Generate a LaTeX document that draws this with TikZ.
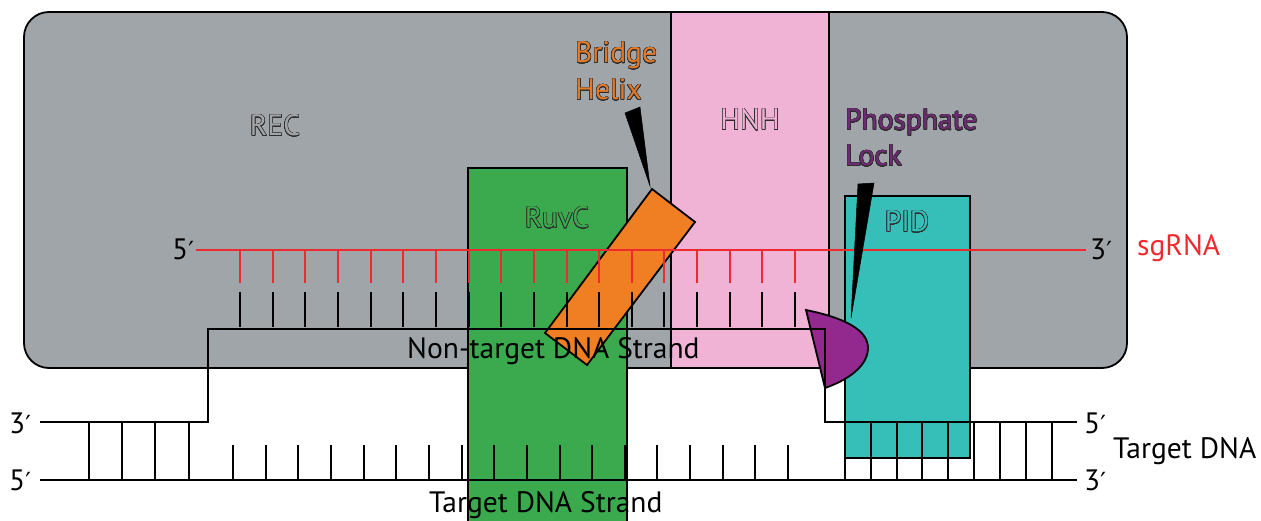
\documentclass[tikz,border=0pt]{standalone}
\usepackage{fontspec}
\setmainfont{PT Sans}
\newfontfamily\dvfont{DejaVu Sans}
\usepackage{contour}
\contourlength{0.5pt}
\contournumber{24}
\definecolor{recgrey}{HTML}{A0A5AA}
\definecolor{hnhpink}{HTML}{F0B3D6}
\definecolor{ruvcgreen}{HTML}{3BAA4E}
\definecolor{pidteal}{HTML}{36BEB9}
\definecolor{bhorange}{HTML}{F07E22}
\definecolor{lockpurple}{HTML}{93288F}
\definecolor{rnared}{HTML}{EE2A2E}
\definecolor{bhtext}{HTML}{E27A2A}
\definecolor{pltext}{HTML}{6E2A72}
\definecolor{outl}{HTML}{2E2E2E}
\newcommand{\myprime}{{\dvfont\fontsize{25}{28}\selectfont ′}}
\begin{document}
\begin{tikzpicture}[x=1pt,y=-1pt,
  domainbox/.style={draw=black, line width=1.8pt},
  strand/.style={draw=black, line width=2.2pt},
  tick/.style={draw=black, line width=2pt},
  rtick/.style={draw=rnared, line width=2pt},
  rna/.style={draw=rnared, line width=2.2pt},
  lbl/.style={font=\fontsize{29.5}{34}\selectfont, inner sep=0pt},
  dom/.style={font=\fontsize{29.5}{34}\selectfont, inner sep=0pt, anchor=base},
  wedge/.style={fill=black, draw=black, line width=0.5pt, line join=miter}]
\useasboundingbox (0,0) rectangle (1261,521);

% protein domains
\draw[domainbox, fill=recgrey, rounded corners=25pt] (24,12) rectangle (1127,368);
\draw[domainbox, fill=hnhpink] (671,12) rectangle (829,368);
\draw[domainbox, fill=ruvcgreen] (468,168) rectangle (627,525);
\draw[domainbox, fill=pidteal] (845,196) rectangle (970,458);
\draw[domainbox, fill=bhorange, line join=miter] (652,189) -- (695,222) -- (587,365) -- (545,333) -- cycle;

% domain labels
\node[dom, text=recgrey] (rec) at (275,136) {\contour{outl}{REC}};
\node[dom, text=hnhpink] (hnh) at (750,130) {\contour{outl}{HNH}};
\node[dom, text=ruvcgreen] (ruvc) at (557,228) {\contour{outl}{RuvC}};
\node[dom, text=pidteal] (pid) at (907,232) {\contour{outl}{PID}};

% phosphate lock
\draw[domainbox, fill=lockpurple] (806,310) .. controls (845,318) and (868,330) .. (868,348)
  .. controls (868,366) and (848,380) .. (825,388) -- cycle;

% sgRNA
\draw[rna] (196,250) -- (1086,250);
\foreach \i in {0,...,17} {
  \draw[rtick] ({240+32.65*\i},250) -- ({240+32.65*\i},283);
  \draw[tick] ({240+32.65*\i},292) -- ({240+32.65*\i},327);
  \draw[tick] ({233+32.65*\i},445) -- ({233+32.65*\i},480);
}
\foreach \x in {89,122,155,189,845,871,897,922,948,974,1000,1026,1052}
  \draw[tick] (\x,422) -- (\x,480);

% DNA strands
\draw[strand] (40,422) -- (208,422) -- (208,329) -- (825,329) -- (825,422) -- (1077,422);
\draw[strand] (40,480) -- (1077,480);

% end labels
\node[lbl, anchor=base west] (rna5) at (172,260) {5\myprime};
\node[lbl, anchor=base west] (rna3) at (1090,260) {3\myprime};
\node[lbl, anchor=base west, text=rnared] (sgrna) at (1137,256) {sgRNA};
\node[lbl, anchor=base west] (nt3) at (9,433) {3\myprime};
\node[lbl, anchor=base west] (t5) at (9,490) {5\myprime};
\node[lbl, anchor=base west] (nt5) at (1084,433) {5\myprime};
\node[lbl, anchor=base west] (t3) at (1084,490) {3\myprime};
\node[lbl, anchor=base west] (tdna) at (1113,458) {Target DNA};
\node[lbl, anchor=base west] (ntlabel) at (407,359) {Non-target DNA Strand};
\node[lbl, anchor=base west] (tlabel) at (429,512) {Target DNA Strand};

% callouts
\node[lbl, anchor=base west, text=bhtext] (bh1) at (575,63) {\contour{outl}{Bridge}};
\node[lbl, anchor=base west, text=bhtext] (bh2) at (575,100) {\contour{outl}{Helix}};
\node[lbl, anchor=base west, text=pltext] (pl1) at (845,130) {\contour{outl}{Phosphate}};
\node[lbl, anchor=base west, text=pltext] (pl2) at (845,166) {\contour{outl}{Lock}};
\fill[wedge] (625,113) -- (640,107) -- (650,186) -- cycle;
\fill[wedge] (858,184) -- (874,183) -- (851,318) -- cycle;
\end{tikzpicture}
\end{document}
